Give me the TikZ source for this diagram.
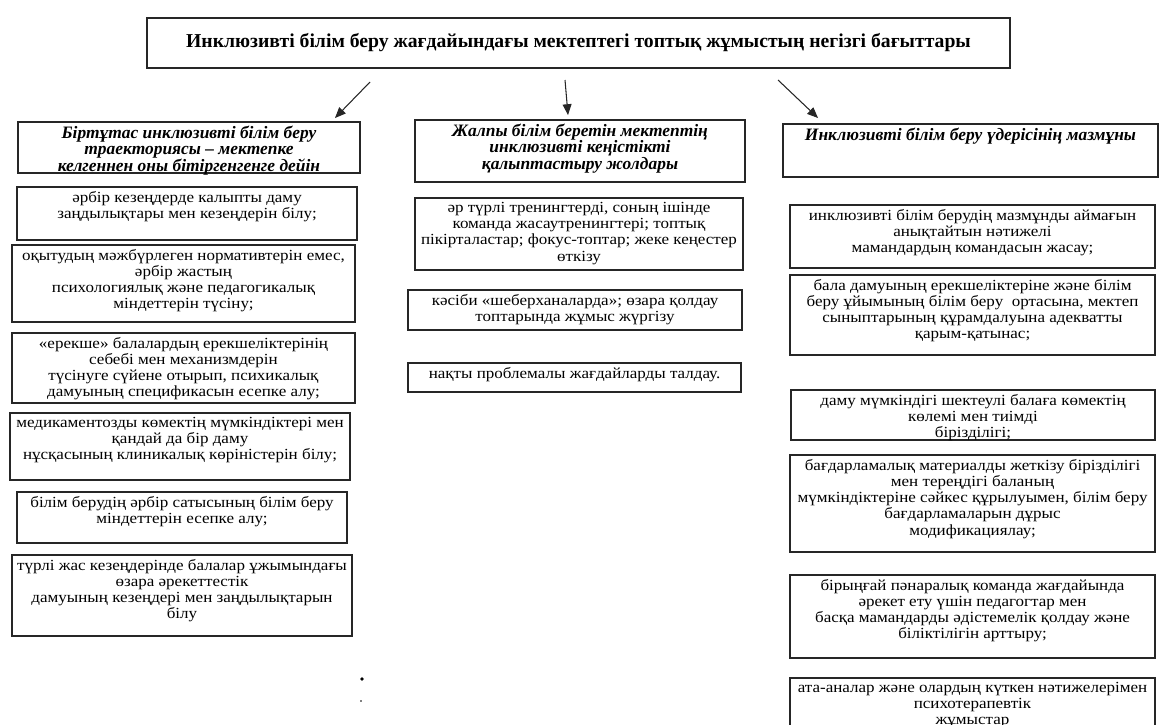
\documentclass[tikz,border=0pt]{standalone}
\usepackage{fontspec}
\setmainfont{Liberation Serif}
\newfontfamily\kbody[FakeStretch=1.1]{Liberation Serif}
\usetikzlibrary{arrows, fit}
\tikzset{
  kbox/.style={draw=black!85, line width=0.8pt, inner sep=0pt},
  ktext/.style={align=center, inner sep=0pt, font=\kbody\fontsize{11}{11.6}\selectfont},
  khead/.style={align=center, inner sep=0pt, font=\fontsize{12.4}{11.6}\selectfont\bfseries\itshape},
  karrow/.style={->, draw=black!85, line width=0.75pt}
}
% box from (x1,y1) to (x2,y2), text at its top
\newcommand{\kbox}[6][ktext]{%
  \node[kbox, fit={(#3,#4) (#5,#6)}] (#2) {};
  \node[#1, anchor=north] (#2t) at ([yshift=-3pt]#2.north)}

\begin{document}
\begin{tikzpicture}[x=0.025cm, y=-0.025cm, >=triangle 45]
\useasboundingbox (0,0) rectangle (1161,724);
\clip (0,0) rectangle (1161,724);
% Title
\node[kbox, fit={(147,18) (1010,68)}] (title) {};
\node[font=\fontsize{14}{16}\selectfont\bfseries] (titlet) at (title) {Инклюзивті білім беру жағдайындағы мектептегі топтық жұмыстың негізгі бағыттары};

\coordinate (a1s) at (370,82); \coordinate (a1e) at (335,118);
\coordinate (a2s) at (565,80); \coordinate (a2e) at (568,115);
\coordinate (a3s) at (778,80); \coordinate (a3e) at (818,118);
\draw[karrow] (a1s) -- (a1e);
\draw[karrow] (a2s) -- (a2e);
\draw[karrow] (a3s) -- (a3e);

% Left column
\kbox[khead]{lh}{18}{122}{360}{173} {Біртұтас инклюзивті білім беру\\траекториясы -- мектепке\\келгеннен оны бітіргенгенге дейін};
\kbox{l1}{17}{187}{357}{240} {әрбір кезеңдерде калыпты даму\\заңдылықтары мен кезеңдерін білу;};
\kbox{l2}{12}{245}{355}{322} {оқытудың мәжбүрлеген нормативтерін емес,\\әрбір жастың\\психологиялық және педагогикалық\\міндеттерін түсіну;};
\kbox{l3}{12}{333}{355}{403} {«ерекше» балалардың ерекшеліктерінің\\себебі мен механизмдерін\\түсінуге сүйене отырып, психикалық\\дамуының спецификасын есепке алу;};
\kbox{l4}{10}{413}{350}{480} {медикаментозды көмектің мүмкіндіктері мен\\қандай да бір даму\\нұсқасының клиникалық көріністерін білу;};
\kbox{l5}{17}{492}{347}{543} {білім берудің әрбір сатысының білім беру\\міндеттерін есепке алу;};
\kbox{l6}{12}{555}{352}{636} {түрлі жас кезеңдерінде балалар ұжымындағы\\өзара әрекеттестік\\дамуының кезеңдері мен заңдылықтарын\\білу};
\fill (362,679) circle (1.8);
\fill (361,701) circle (0.9);

% Middle column
\kbox[khead]{mh}{415}{120}{745}{182} {Жалпы білім беретін мектептің\\инклюзивті кеңістікті\\қалыптастыру жолдары};
\kbox{m1}{415}{198}{743}{270} {әр түрлі тренингтерді, соның ішінде\\команда жасаутренингтері; топтық\\пікірталастар; фокус-топтар; жеке кеңестер\\өткізу};
\kbox{m2}{408}{290}{742}{330} {кәсіби «шеберханаларда»; өзара қолдау\\топтарында жұмыс жүргізу};
\kbox{m3}{408}{363}{741}{392} {нақты проблемалы жағдайларды талдау.};

% Right column
\kbox[khead]{rh}{783}{124}{1158}{177} {Инклюзивті білім беру үдерісінің мазмұны};
\kbox{r1}{790}{205}{1155}{268} {инклюзивті білім берудің мазмұнды аймағын\\анықтайтын нәтижелі\\мамандардың командасын жасау;};
\kbox{r2}{790}{275}{1155}{355} {бала дамуының ерекшеліктеріне және білім\\беру ұйымының білім беру\ \ ортасына, мектеп\\сыныптарының құрамдалуына адекватты\\қарым-қатынас;};
\kbox{r3}{791}{390}{1155}{440} {даму мүмкіндігі шектеулі балаға көмектің\\көлемі мен тиімді\\бірізділігі;};
\kbox{r4}{790}{455}{1155}{552} {бағдарламалық материалды жеткізу бірізділігі\\мен тереңдігі баланың\\мүмкіндіктеріне сәйкес құрылуымен, білім беру\\бағдарламаларын дұрыс\\модификациялау;};
\kbox{r5}{790}{575}{1155}{658} {бірыңғай пәнаралық команда жағдайында\\әрекет ету үшін педагогтар мен\\басқа мамандарды әдістемелік қолдау және\\біліктілігін арттыру;};
\kbox{r6}{790}{678}{1155}{740} {ата-аналар және олардың күткен нәтижелерімен\\психотерапевтік\\жұмыстар};

\end{tikzpicture}
\end{document}
